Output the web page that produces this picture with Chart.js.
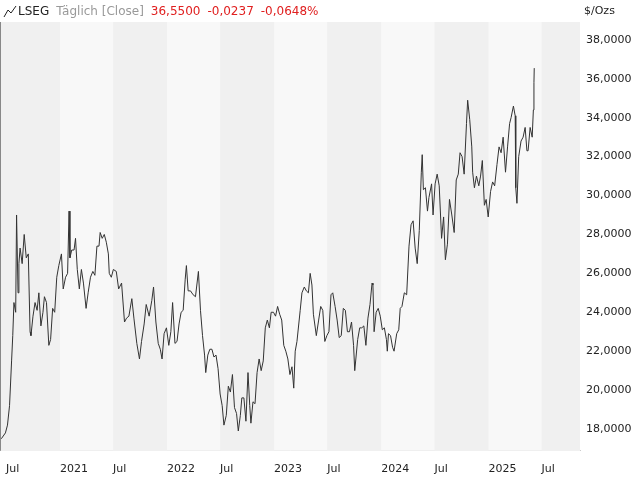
<!DOCTYPE html>
<html><head><meta charset="utf-8">
<script src="https://cdn.jsdelivr.net/npm/chart.js@4"></script>
<style>html,body{margin:0;padding:0;background:#fff}#w{width:640px;height:480px}</style>
</head><body><div id="w"><canvas id="c"></canvas></div>
<script>
const dates = ["2020-06-15","2020-06-29","2020-07-06","2020-07-13","2020-07-20","2020-07-24","2020-07-28","2020-08-03","2020-08-06","2020-08-11","2020-08-14","2020-08-18","2020-08-25","2020-09-01","2020-09-08","2020-09-15","2020-09-21","2020-09-24","2020-10-01","2020-10-08","2020-10-15","2020-10-21","2020-10-28","2020-11-04","2020-11-09","2020-11-16","2020-11-24","2020-11-30","2020-12-07","2020-12-14","2020-12-21","2020-12-28",
"2021-01-06","2021-01-12","2021-01-20","2021-01-27","2021-02-01","2021-02-04","2021-02-10","2021-02-18","2021-02-23","2021-03-01","2021-03-08","2021-03-15","2021-03-22","2021-03-31","2021-04-07","2021-04-15","2021-04-23","2021-04-30","2021-05-07","2021-05-14","2021-05-18","2021-05-25","2021-06-01","2021-06-08","2021-06-15","2021-06-18","2021-06-25","2021-07-02","2021-07-12","2021-07-20","2021-07-30","2021-08-09","2021-08-16","2021-08-24","2021-09-03","2021-09-10","2021-09-20","2021-09-29","2021-10-06","2021-10-15","2021-10-22","2021-11-01","2021-11-10","2021-11-16","2021-11-24","2021-12-02","2021-12-09","2021-12-15","2021-12-22","2021-12-30",
"2022-01-07","2022-01-14","2022-01-20","2022-01-28","2022-02-04","2022-02-11","2022-02-18","2022-02-25","2022-03-04","2022-03-08","2022-03-14","2022-03-22","2022-03-31","2022-04-08","2022-04-18","2022-04-25","2022-05-02","2022-05-09","2022-05-13","2022-05-20","2022-05-27","2022-06-03","2022-06-10","2022-06-17","2022-06-24","2022-07-01","2022-07-08","2022-07-14","2022-07-22","2022-07-29","2022-08-05","2022-08-12","2022-08-19","2022-08-26","2022-09-01","2022-09-08","2022-09-13","2022-09-20","2022-09-27","2022-10-04","2022-10-10","2022-10-14","2022-10-21","2022-10-28","2022-11-04","2022-11-11","2022-11-18","2022-11-25","2022-12-02","2022-12-09","2022-12-16","2022-12-22","2022-12-30",
"2023-01-06","2023-01-13","2023-01-20","2023-01-27","2023-02-03","2023-02-10","2023-02-17","2023-02-24","2023-03-03","2023-03-09","2023-03-14","2023-03-20","2023-03-31","2023-04-06","2023-04-14","2023-04-21","2023-04-28","2023-05-04","2023-05-10","2023-05-15","2023-05-25","2023-06-02","2023-06-09","2023-06-16","2023-06-23","2023-06-30","2023-07-07","2023-07-14","2023-07-20","2023-07-28","2023-08-04","2023-08-11","2023-08-18","2023-08-25","2023-09-01","2023-09-08","2023-09-15","2023-09-22","2023-09-29","2023-10-03","2023-10-13","2023-10-20","2023-10-27","2023-11-03","2023-11-10","2023-11-17","2023-11-24","2023-12-01","2023-12-04","2023-12-08","2023-12-15","2023-12-22","2023-12-29",
"2024-01-05","2024-01-12","2024-01-19","2024-01-22","2024-01-26","2024-02-02","2024-02-09","2024-02-14","2024-02-23","2024-03-01","2024-03-06","2024-03-12","2024-03-20","2024-03-28","2024-04-05","2024-04-12","2024-04-19","2024-04-26","2024-05-03","2024-05-10","2024-05-17","2024-05-20","2024-05-24","2024-05-31","2024-06-07","2024-06-12","2024-06-21","2024-06-26","2024-07-03","2024-07-10","2024-07-17","2024-07-25","2024-08-01","2024-08-07","2024-08-14","2024-08-21","2024-08-29","2024-09-06","2024-09-13","2024-09-20","2024-09-26","2024-10-03","2024-10-10","2024-10-18","2024-10-22","2024-10-29","2024-11-05","2024-11-08","2024-11-14","2024-11-21","2024-11-29","2024-12-05","2024-12-11","2024-12-18","2024-12-24","2024-12-31",
"2025-01-08","2025-01-15","2025-01-22","2025-01-30","2025-02-06","2025-02-13","2025-02-20","2025-02-28","2025-03-07","2025-03-14","2025-03-19","2025-03-27","2025-04-02","2025-04-04","2025-04-08","2025-04-14","2025-04-22","2025-04-29","2025-05-06","2025-05-12","2025-05-16","2025-05-23","2025-05-30","2025-06-03","2025-06-05","2025-06-06"];
const prices = [17.5,17.8,18.2,19.2,21.5,22.8,24.5,24.0,29.0,25.0,26.5,27.3,26.5,28.0,26.8,27.0,23.0,22.8,23.8,24.5,24.1,25.0,23.3,24.0,24.8,24.5,22.3,22.6,24.2,24.0,25.8,26.4,
27.0,25.2,25.8,26.0,29.2,26.8,27.2,27.2,27.8,26.2,25.2,26.2,25.5,24.2,25.0,25.8,26.1,25.9,27.4,27.4,28.1,27.8,28.0,27.6,27.0,26.0,25.8,26.2,26.1,25.2,25.5,23.5,23.7,23.8,24.7,23.7,22.4,21.6,22.5,23.4,24.4,23.8,24.6,25.3,23.5,22.4,22.1,21.6,22.9,23.2,
22.3,23.0,24.5,22.4,22.5,23.4,24.0,24.1,25.7,26.4,25.1,25.1,24.9,24.8,26.1,24.1,22.8,21.8,20.9,21.8,22.1,22.1,21.7,21.8,21.1,19.8,19.2,18.2,18.7,20.2,19.9,20.8,19.1,18.8,17.9,18.7,19.6,19.6,18.4,20.9,19.2,18.3,19.4,19.3,20.9,21.6,21.0,21.5,23.2,23.6,23.2,24.0,24.0,
23.8,24.3,23.9,23.6,22.3,22.0,21.6,20.8,21.2,20.1,22.0,22.5,24.1,25.0,25.3,25.1,25.0,26.0,25.4,23.9,22.8,23.6,24.3,24.1,22.5,22.8,23.0,24.9,25.0,24.3,23.6,22.7,22.8,24.2,24.1,23.0,23.0,23.5,22.3,21.0,22.6,23.2,23.2,23.3,22.3,23.7,24.4,25.5,25.4,23.0,24.0,24.2,23.8,
23.1,23.2,22.6,22.0,22.9,22.8,22.2,22.0,22.9,23.1,24.2,24.3,25.0,24.9,27.4,28.5,28.7,27.3,26.5,28.2,31.2,32.1,30.3,30.4,29.2,29.9,30.6,29.0,30.6,31.1,30.5,27.8,28.9,26.7,27.5,29.8,29.0,28.1,30.8,31.1,32.2,32.0,31.1,33.7,34.9,33.9,32.5,31.2,30.4,31.0,30.5,31.0,31.8,29.5,29.8,28.9,
30.2,30.7,30.5,31.6,32.5,32.2,33.0,31.2,32.5,33.7,34.0,34.6,34.1,30.4,29.6,32.0,32.8,33.0,33.5,32.3,32.3,33.5,33.0,34.4,35.8,36.55];
const yTicks = [18,20,22,24,26,28,30,32,34,36,38];
const xTickDates = ["2020-07-01","2021-01-01","2021-07-01","2022-01-01","2022-07-01","2023-01-01","2023-07-01","2024-01-01","2024-07-01","2025-01-01","2025-07-01"];
const xTickLabels = ["Jul","2021","Jul","2022","Jul","2023","Jul","2024","Jul","2025","Jul"];

const base = Date.UTC(2020,0,1);
const dayOf = s => (Date.parse(s+"T00:00:00Z")-base)/86400000;
const pts = dates.map((d,i)=>({x:dayOf(d),y:prices[i]}));
const xTickVals = xTickDates.map(dayOf);

const bands = {id:'bands', beforeDatasetsDraw(ch){
  const {ctx,chartArea:a,scales:{x}} = ch;
  ctx.save();
  ctx.fillStyle='#f8f8f8'; ctx.fillRect(a.left,a.top,a.right-a.left,a.bottom-a.top);
  const edges=[x.min,...xTickVals.filter(v=>v>x.min&&v<x.max),x.max];
  for(let i=0;i<edges.length-1;i++){
    const startIsJul = i===0 ? false : xTickLabels[xTickVals.indexOf(edges[i])]==='Jul';
    const pre = i===0;
    if(startIsJul||pre){ ctx.fillStyle='#f0f0f0';
      const l=x.getPixelForValue(edges[i]), r=x.getPixelForValue(edges[i+1]);
      ctx.fillRect(l,a.top,r-l,a.bottom-a.top);}
  }
  ctx.restore();
}, afterDraw(ch){
  const {ctx,chartArea:a}=ch; ctx.save();
  ctx.font='12px "DejaVu Sans", sans-serif'; ctx.textBaseline='middle';
  ctx.strokeStyle='#222'; ctx.lineWidth=1; ctx.beginPath();
  ctx.moveTo(4,17);ctx.lineTo(8,10);ctx.lineTo(11,13);ctx.lineTo(16,6);ctx.stroke();
  let xx=18;
  const parts=[["LSEG",'#222'],["Täglich [Close]",'#999'],["36,5500",'#e02020'],["-0,0237",'#e02020'],["-0,0648%",'#e02020']];
  for(const [t,c] of parts){ctx.fillStyle=c;ctx.fillText(t,xx,12);xx+=ctx.measureText(t).width+7;}
  ctx.fillStyle='#222'; ctx.font='11px "DejaVu Sans", sans-serif'; ctx.fillText('$/Ozs',584,11);
  ctx.strokeStyle='#888'; ctx.beginPath(); ctx.moveTo(a.left+0.5,a.top); ctx.lineTo(a.left+0.5,a.bottom); ctx.stroke();
  ctx.restore();
}};

new Chart(document.getElementById('c'),{
  type:'line',
  data:{datasets:[{data:pts,borderColor:'#333',borderWidth:1,pointRadius:0,tension:0}]},
  options:{animation:false,responsive:true,maintainAspectRatio:false,
    layout:{padding:{top:22,left:0,right:0,bottom:0}},
    plugins:{legend:{display:false},tooltip:{enabled:false}},
    scales:{
      x:{type:'linear',min:161.5,max:2139,
        afterBuildTicks:s=>{s.ticks=xTickVals.map(v=>({value:v}));},
        afterFit:s=>{s.paddingLeft=0;s.paddingRight=0;},
        ticks:{callback:(v)=>xTickLabels[xTickVals.indexOf(v)]??'',color:'#222',font:{size:11,family:'"DejaVu Sans", sans-serif'},align:'start',labelOffset:0,maxRotation:0,autoSkip:false,padding:4},
        grid:{display:false},border:{display:true,color:'#ccc'}},
      y:{position:'right',min:16.88,max:38.92,
        afterBuildTicks:s=>{s.ticks=yTicks.map(v=>({value:v}));},
        afterFit:s=>{s.width=60;},
        ticks:{callback:v=>v.toFixed(4).replace('.',','),color:'#222',font:{size:11,family:'"DejaVu Sans", sans-serif'},padding:6},
        grid:{color:'#dcdcdc',drawTicks:false},border:{display:false}}
    }},
  plugins:[bands]
});
</script></body></html>
